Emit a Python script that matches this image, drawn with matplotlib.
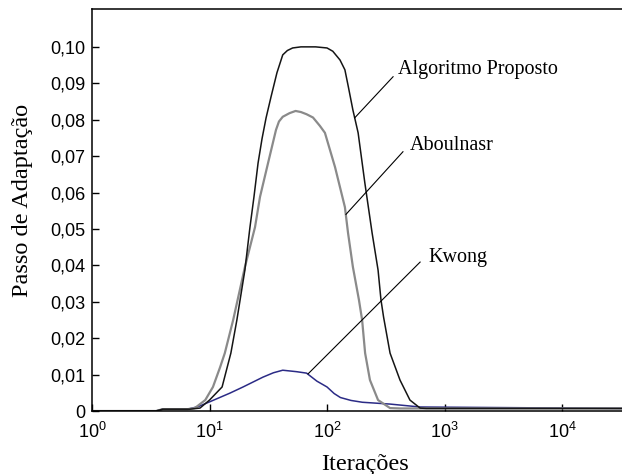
import matplotlib
matplotlib.use("Agg")
import matplotlib.pyplot as plt

plt.rcParams['mathtext.fontset'] = 'custom'
plt.rcParams['mathtext.rm'] = 'Liberation Sans'
plt.rcParams['mathtext.it'] = 'Liberation Sans:italic'

# step size vs iteration for the three adaptive algorithms
prop_it = [1, 3.5, 4, 6.8, 8.3, 10, 12.8, 15.2, 17.1, 20, 22.1, 23.9, 25.9, 28,
           30.3, 33.4, 37.5, 42, 46, 51, 60, 80, 100, 112, 129, 142, 152, 166,
           184, 210, 242, 272, 288, 303, 344, 418, 508, 620, 700, 32400]
prop_mu = [0, 0, 0.0005, 0.0005, 0.0008, 0.003, 0.0066, 0.0159, 0.025, 0.0387,
           0.0505, 0.0588, 0.0681, 0.0748, 0.0805, 0.0863, 0.0929, 0.0978, 0.099,
           0.0997, 0.1, 0.1, 0.0997, 0.0988, 0.0964, 0.0937, 0.089, 0.0827,
           0.0764, 0.0626, 0.0489, 0.0387, 0.0305, 0.0258, 0.0159, 0.0085, 0.003,
           0.0008, 0.0007, 0.0007]

abou_it = [1, 3.5, 4, 6.5, 7.5, 9.2, 10.7, 12.3, 13.5, 15.9, 20, 24.4, 26.9, 31.5,
           36.8, 39, 42, 48, 54, 60, 67, 76, 87, 96, 117, 142, 151, 166, 187,
           199, 211, 232, 272, 344, 420, 32400]
abou_mu = [0, 0, 0.0005, 0.0005, 0.0008, 0.003, 0.0066, 0.012, 0.0159, 0.025,
           0.0395, 0.0505, 0.0588, 0.0681, 0.0772, 0.0795, 0.0808, 0.0818, 0.0824,
           0.0821, 0.0815, 0.0806, 0.0783, 0.0764, 0.067, 0.056, 0.0489, 0.0396,
           0.0305, 0.025, 0.0159, 0.0085, 0.003, 0.0008, 0.0007, 0.0007]

kwong_it = [1, 3.5, 4, 6.5, 8, 10, 14.9, 19.3, 28.5, 35, 42, 55, 67, 82, 100,
            115, 130, 160, 200, 344, 620, 32400]
kwong_mu = [0, 0, 0.0005, 0.0005, 0.0012, 0.0025, 0.0049, 0.0066, 0.0093, 0.0105,
            0.0112, 0.0108, 0.0104, 0.0082, 0.0066, 0.0048, 0.0037, 0.0029,
            0.0024, 0.0019, 0.0011, 0.0007]

names = ['Algoritmo Proposto', 'Aboulnasr', 'Kwong']
xticks = [1, 10, 100, 1000, 10000]
xtick_labels = [r'$\mathregular{10^{%d}}$' % k for k in range(5)]
yticks = [0, 0.01, 0.02, 0.03, 0.04, 0.05, 0.06, 0.07, 0.08, 0.09, 0.10]
ytick_labels = ['0', '0,01', '0,02', '0,03', '0,04', '0,05', '0,06', '0,07',
                '0,08', '0,09', '0,10']

fig = plt.figure(figsize=(6.22, 4.74), dpi=100)
ax = fig.add_axes([92/622, 63/474, 530/622, 402/474])

ax.plot(kwong_it, kwong_mu, color='#2b2b86', lw=1.1)
ax.plot(abou_it, abou_mu, color='#8a8a8a', lw=1.6)
ax.plot(prop_it, prop_mu, color='#151515', lw=1.1)

ax.set_xscale('log')
ax.set_xlim(1, 32400)
ax.set_ylim(0, 0.1104)
ax.set_xticks(xticks, xtick_labels)
ax.minorticks_off()
ax.set_yticks(yticks, ytick_labels)
ax.tick_params(direction='in', length=5, width=1, labelsize=13, pad=5)
ax.tick_params(axis='x', pad=8)
for lab in ax.get_xticklabels() + ax.get_yticklabels():
    lab.set_fontfamily('Liberation Sans')

ax.spines['right'].set_visible(False)
for s in ['left', 'bottom', 'top']:
    ax.spines[s].set_linewidth(1.1)

ax.set_xlabel('Iterações', family='Liberation Serif', fontsize=17.5)
ax.set_ylabel('Passo de Adaptação', family='Liberation Serif', fontsize=17.5)
ax.xaxis.set_label_coords(0.515, -0.108)
ax.yaxis.set_label_coords(-0.111, 0.525)

# leader lines from each name to its curve
notes = [((402, 0.0926), (365, 0.0918), (172, 0.0805)),
         ((509, 0.0717), (443, 0.0712), (145, 0.0540)),
         ((724, 0.0409), (620, 0.0409), (69, 0.0102))]
for name, (txt, start, end) in zip(names, notes):
    ax.text(txt[0], txt[1], name, family='Liberation Serif', fontsize=14.5,
            ha='left', va='baseline')
    ax.plot([start[0], end[0]], [start[1], end[1]], color='black', lw=0.8)

fig.savefig('out.png', dpi=100)
